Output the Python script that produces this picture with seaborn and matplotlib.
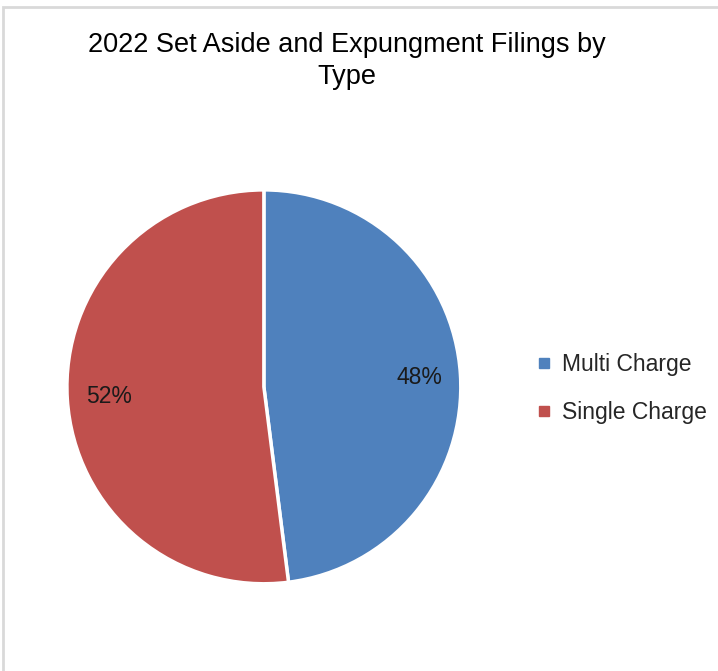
import matplotlib
matplotlib.use("Agg")
import matplotlib.pyplot as plt
from matplotlib.lines import Line2D
from matplotlib.patches import Rectangle
import seaborn as sns

# データ
labels = ["Multi Charge", "Single Charge"]
values = [48, 52]
colors = ["#4F81BD", "#C0504D"]
title = "2022 Set Aside and Expungment Filings by\nType"

sns.set_theme(style="white")
plt.rcParams["font.family"] = ["Liberation Sans", "DejaVu Sans"]

fig = plt.figure(figsize=(7.18, 6.71), dpi=100)
ax = fig.add_axes([0.093, 0.130, 0.549, 0.587])

wedges, texts, autotexts = ax.pie(
    values,
    colors=colors,
    startangle=90,
    counterclock=False,
    autopct="%d%%",
    pctdistance=0.79,
    wedgeprops=dict(edgecolor="white", linewidth=2.5),
    textprops=dict(fontsize=16.5, color="#1a1a1a"),
)
ax.set_xlim(-1.0, 1.0)
ax.set_ylim(-1.0, 1.0)
ax.set_aspect("equal")

fig.text(0.483, 0.952, title, ha="center", va="top", fontsize=19.5,
         color="black", linespacing=1.28)

# 凡例
handles = [Line2D([], [], marker="s", linestyle="", markersize=7,
                  markerfacecolor=c, markeredgecolor=c) for c in colors]
fig.legend(handles, labels, loc="center left", bbox_to_anchor=(0.713, 0.421),
           frameon=False, fontsize=16.5, handletextpad=0.3, labelspacing=1.05,
           handlelength=1.0)

# 外枠
fig.add_artist(Rectangle((0.004, -0.1), 1.1, 1.09, transform=fig.transFigure,
                         fill=False, edgecolor="#D9D9D9", linewidth=2))

fig.savefig("out.png", dpi=100)
